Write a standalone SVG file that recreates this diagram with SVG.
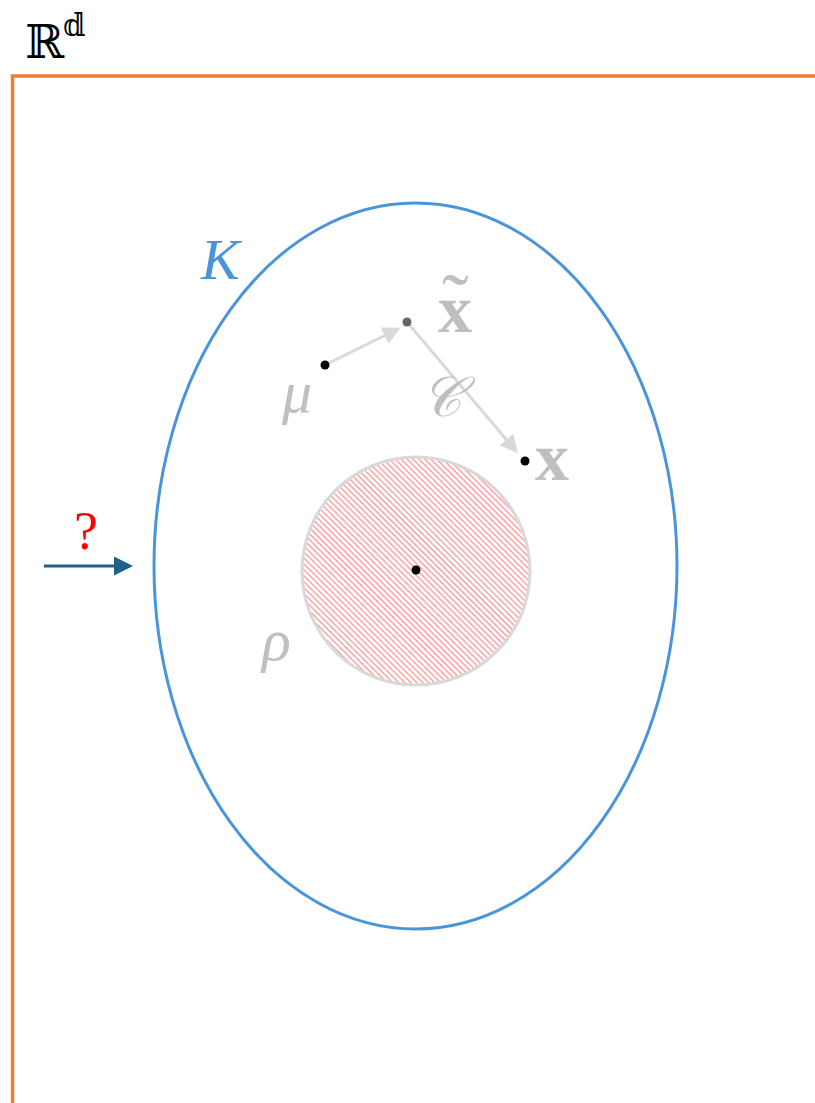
<svg xmlns="http://www.w3.org/2000/svg" width="815" height="1103" viewBox="0 0 815 1103">
<style>
.lbl{font-family:"Liberation Serif","DejaVu Serif",serif;fill:#bfbfbf}
.dot{fill:#000}
</style>
<defs>
<pattern id="hatch" patternUnits="userSpaceOnUse" width="4.2" height="4.2" patternTransform="rotate(-45)">
<rect width="4.2" height="4.2" fill="#fff"/>
<line x1="1" y1="0" x2="1" y2="4.2" stroke="#ff9494" stroke-width="1.3"/>
</pattern>
<marker id="ga" markerWidth="6" markerHeight="6" refX="5" refY="3" orient="auto" markerUnits="strokeWidth">
<path d="M0,0 L6,3 L0,6 z" fill="#d9d9d9"/>
</marker>
<marker id="ba" markerWidth="6" markerHeight="6" refX="5" refY="3" orient="auto" markerUnits="strokeWidth">
<path d="M0,0 L6,3 L0,6 z" fill="#1f6289"/>
</marker>
</defs>
<g id="frame">
<path d="M12.5,1103 V76 H815" fill="none" stroke="#ed7d31" stroke-width="3.5"/>
<text x="25" y="58" font-family="DejaVu Serif, serif" font-size="47" fill="#000">ℝ</text>
<text x="63" y="36" font-family="DejaVu Serif, serif" font-size="32" fill="#000">𝕕</text>
</g>
<g id="K">
<ellipse cx="415.5" cy="566" rx="261.5" ry="363" fill="none" stroke="#4a94da" stroke-width="3"/>
<text x="201" y="279" font-family="Liberation Serif, serif" font-style="italic" font-size="58" fill="#4a94da">K</text>
</g>
<g id="rho">
<circle cx="416" cy="571" r="114" fill="url(#hatch)" stroke="#d9d9d9" stroke-width="3"/>
<circle class="dot" cx="416" cy="570" r="4.5"/>
<text class="lbl" x="262" y="660" font-style="italic" font-size="60">ρ</text>
</g>
<g id="connectors">
<line x1="325" y1="365" x2="398" y2="329" stroke="#d9d9d9" stroke-width="3" marker-end="url(#ga)"/>
<line x1="407" y1="322" x2="516" y2="451" stroke="#d9d9d9" stroke-width="3" marker-end="url(#ga)"/>
<line x1="44" y1="566" x2="130" y2="566" stroke="#1f6289" stroke-width="3.2" marker-end="url(#ba)"/>
</g>
<g id="mu">
<circle class="dot" cx="325" cy="365" r="4.5"/>
<text class="lbl" x="282" y="412" font-style="italic" font-size="60">μ</text>
</g>
<g id="xtilde">
<circle cx="407" cy="322" r="4.5" fill="#666"/>
<text class="lbl" x="438" y="332" font-weight="bold" font-size="68">x</text>
<text class="lbl" x="442" y="329" font-size="80">˜</text>
</g>
<g id="x">
<circle class="dot" cx="525" cy="461" r="4.5"/>
<text class="lbl" x="535" y="480" font-weight="bold" font-size="68">x</text>
</g>
<g id="C">
<text class="lbl" x="421" y="416" font-style="italic" font-size="56">𝒞</text>
</g>
<g id="q">
<text x="74" y="549" font-family="Liberation Serif, serif" font-size="54" fill="#ff0000">?</text>
</g>
</svg>
